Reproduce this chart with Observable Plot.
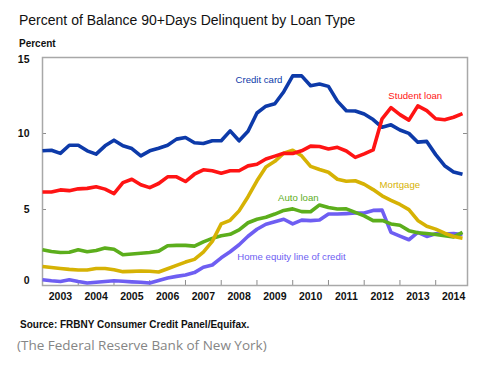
<!DOCTYPE html>
<html><head><meta charset="utf-8">
<script src="https://cdn.jsdelivr.net/npm/d3@7"></script>
<script src="https://cdn.jsdelivr.net/npm/@observablehq/plot@0.6"></script>
<style>
body{margin:0;background:#fff;font-family:"Liberation Sans",Arial,sans-serif;}
#wrap{position:relative;width:489px;height:375px;background:#fff;overflow:hidden;}
#chart{position:absolute;left:0;top:0;}
.t{position:absolute;white-space:nowrap;}
</style></head><body>
<div id="wrap">
<div id="chart"></div>
<div class="t" style="left:19px;top:12px;font-size:14px;color:#111">Percent of Balance 90+Days Delinquent by Loan Type</div>
<div class="t" style="left:19px;top:37.5px;font-size:10px;font-weight:bold;color:#111">Percent</div>
<div class="t" style="left:20px;top:318.5px;font-size:10px;font-weight:bold;color:#111">Source: FRBNY Consumer Credit Panel/Equifax.</div>
<div class="t" style="left:17px;top:336px;font-size:13.5px;color:#858585;font-family:'Open Sans',sans-serif">(The Federal Reserve Bank of New York)</div>
</div>
<script>
// quarterly time axis 2003Q1 .. 2014Q4
const quarters = d3.range(2003, 2015).flatMap(y => [0, 0.25, 0.5, 0.75].map(f => y + f));
const seriesNames = ["Credit card", "Student loan", "Mortgage", "Auto loan", "Home equity line of credit"];
const seriesColors = ["#0d3aa9", "#ff1414", "#d6b204", "#5cae1c", "#6e5ef2"];

const creditCard = [8.86,8.90,8.69,9.23,9.23,8.86,8.64,9.19,9.56,9.19,9.01,8.53,8.86,9.03,9.23,9.63,9.74,9.39,9.34,9.52,9.52,10.17,9.52,10.15,11.35,11.80,11.96,12.75,13.79,13.79,13.14,13.26,13.10,12.13,11.50,11.48,11.28,10.92,10.41,10.57,10.23,10.01,9.43,9.48,8.61,7.88,7.47,7.32];
const studentLoan = [6.15,6.15,6.29,6.24,6.36,6.39,6.50,6.34,6.05,6.77,6.99,6.63,6.44,6.71,7.15,7.15,6.84,7.32,7.61,7.55,7.39,7.55,7.55,7.87,7.98,8.32,8.51,8.70,8.68,8.86,9.17,9.14,8.98,9.09,8.85,8.43,8.66,8.92,10.97,11.70,11.24,10.88,11.82,11.50,10.97,10.90,11.07,11.31];
const mortgage = [1.25,1.18,1.12,1.06,1.02,1.02,1.12,1.12,1.03,0.91,0.93,0.95,0.94,0.89,1.10,1.32,1.54,1.72,2.20,2.90,4.05,4.29,4.91,5.84,6.89,7.80,8.17,8.70,8.90,8.53,7.84,7.63,7.45,6.99,6.86,6.89,6.66,6.31,5.90,5.60,5.33,4.99,4.28,3.90,3.71,3.44,3.22,3.11];
const autoLoan = [2.35,2.24,2.17,2.19,2.35,2.22,2.30,2.46,2.39,2.02,2.07,2.12,2.17,2.26,2.62,2.64,2.64,2.59,2.87,3.10,3.27,3.37,3.66,4.13,4.36,4.49,4.70,4.94,5.04,4.86,4.85,5.30,5.13,5.03,5.04,4.81,4.58,4.27,4.28,4.05,3.96,3.61,3.47,3.42,3.36,3.28,3.20,3.49];
const heloc = [0.38,0.31,0.26,0.38,0.26,0.16,0.21,0.26,0.31,0.28,0.24,0.21,0.16,0.33,0.50,0.60,0.69,0.85,1.20,1.35,1.82,2.22,2.68,3.24,3.70,4.03,4.19,4.36,4.05,4.30,4.27,4.31,4.70,4.70,4.73,4.77,4.77,4.94,4.96,3.49,3.25,3.01,3.49,3.23,3.40,3.38,3.42,3.36];

const yearLabels = ["2003","2004","2005","2006","2007","2008","2009","2010","2011","2012","2013","2014"];
const yearTicks = [2004,2005,2006,2007,2008,2009,2010,2011,2012,2013,2014];
const yTicks = [5, 10];

// direct labels (position in data units)
const labelNames = ["Credit card", "Student loan", "Mortgage", "Auto loan", "Home equity line of credit"];
const labelX = [2008.40, 2012.675, 2012.43, 2009.59, 2008.45];
const labelY = [13.5, 12.45, 6.59, 5.77, 1.87];

const valuesBySeries = [creditCard, studentLoan, mortgage, autoLoan, heloc];
const drawOrder = [0, 4, 3, 2, 1];
const rows = drawOrder.flatMap(s => quarters.map((q, i) => ({series: seriesNames[s], x: q, y: valuesBySeries[s][i]})));
const labels = labelNames.map((n, i) => ({series: n, x: labelX[i], y: labelY[i]}));

const W = 489, H = 320, mT = 57, mB = 35, mL = 42, mR = 22;
const plotH = H - mT - mB, plotW = W - mL - mR;

const chart = Plot.plot({
  width: W, height: H,
  marginTop: mT, marginBottom: mB, marginLeft: mL, marginRight: mR,
  x: {domain: [2003, 2014.89], axis: null},
  y: {domain: [0, 15], axis: null},
  color: {domain: seriesNames, range: seriesColors},
  style: {fontFamily: "'Liberation Sans', Arial, sans-serif", background: "#fff", overflow: "visible"},
  marks: [
    Plot.ruleX(yearTicks, {x: d => d, stroke: "#8c8c8c", insetTop: plotH - 5}),
    Plot.ruleY(yTicks, {y: d => d, stroke: "#8c8c8c", insetRight: plotW - 4}),
    Plot.ruleY(yTicks, {y: d => d, stroke: "#8c8c8c", insetLeft: plotW - 4}),
    Plot.frame({stroke: "#a8a8a8", strokeWidth: 1.5}),
    Plot.line(rows, {x: "x", y: "y", z: "series", stroke: "series", strokeWidth: 3.6, strokeLinejoin: "round", strokeLinecap: "butt"}),
    Plot.text(labels, {x: "x", y: "y", text: "series", fill: "series", textAnchor: "start", fontSize: 9.6}),
    Plot.text(yTicks, {y: d => d, text: d => String(d), frameAnchor: "left", dx: -13, textAnchor: "end", fontSize: 10.5, fontWeight: "bold", fill: "#111"}),
    Plot.text([15], {y: d => d, text: d => String(d), frameAnchor: "left", dx: -13, dy: 2, textAnchor: "end", fontSize: 10.5, fontWeight: "bold", fill: "#111"}),
    Plot.text([0], {y: d => d, text: d => String(d), frameAnchor: "left", dx: -13, dy: -5, textAnchor: "end", fontSize: 10.5, fontWeight: "bold", fill: "#111"}),
    Plot.text(yearLabels, {x: d => +d + 0.5, text: d => d, frameAnchor: "bottom", dy: 14, fontSize: 10.5, fontWeight: "bold", fill: "#111"})
  ]
});
document.getElementById("chart").appendChild(chart);
</script>
</body></html>
